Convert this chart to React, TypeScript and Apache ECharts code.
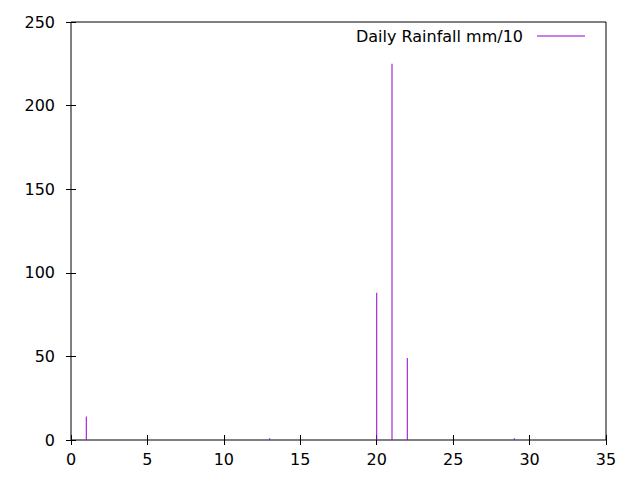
import React, { useEffect, useRef } from 'react';
import * as echarts from 'echarts';

const days = [1, 13, 20, 21, 22, 29];
const rainfall = [14, 1, 88, 225, 49, 1];
const seriesName = 'Daily Rainfall mm/10';

const App: React.FC = () => {
  const chartRef = useRef<HTMLDivElement | null>(null);

  useEffect(() => {
    if (!chartRef.current) return;
    const chart = echarts.init(chartRef.current, undefined, { renderer: 'svg' });

    const font = 'DejaVu Sans';
    const tick = { show: true, inside: true, length: 5, lineStyle: { color: '#000' } };

    const option: echarts.EChartsOption = {
      animation: false,
      textStyle: { fontFamily: font },
      // div sits at (8,8) because of the body margin
      grid: {
        left: 63,
        right: 26,
        top: 14,
        bottom: 32,
        show: true,
        borderColor: '#000',
        borderWidth: 1,
      },
      legend: {
        right: 42,
        top: 15,
        align: 'right',
        itemWidth: 48,
        itemHeight: 1,
        itemGap: 10,
        icon: 'rect',
        textStyle: { fontFamily: font, fontSize: 16, color: '#000', padding: [0, 9, 0, 0] },
        data: [seriesName],
      },
      xAxis: [
        {
          type: 'value',
          min: 0,
          max: 35,
          interval: 5,
          splitLine: { show: false },
          axisLine: { show: false },
          axisTick: tick,
          axisLabel: { color: '#000', fontSize: 16, fontFamily: font, margin: 11 },
        },
        {
          type: 'value',
          position: 'top',
          min: 0,
          max: 35,
          interval: 5,
          splitLine: { show: false },
          axisLine: { show: false },
          axisTick: tick,
          axisLabel: { show: false },
        },
      ],
      yAxis: [
        {
          type: 'value',
          min: 0,
          max: 250,
          interval: 50,
          splitLine: { show: false },
          axisLine: { show: false },
          axisTick: tick,
          axisLabel: { color: '#000', fontSize: 16, fontFamily: font, margin: 16 },
        },
        {
          type: 'value',
          position: 'right',
          min: 0,
          max: 250,
          interval: 50,
          splitLine: { show: false },
          axisLine: { show: false },
          axisTick: tick,
          axisLabel: { show: false },
        },
      ],
      series: [
        {
          name: seriesName,
          type: 'bar',
          barWidth: 1,
          itemStyle: { color: '#9400d3' },
          data: days.map((d, i) => [d, rainfall[i]]),
        },
      ],
    };

    chart.setOption(option);

    return () => {
      chart.dispose();
    };
  }, []);

  return <div ref={chartRef} style={{ width: 624, height: 464 }} />;
};

export default App;
